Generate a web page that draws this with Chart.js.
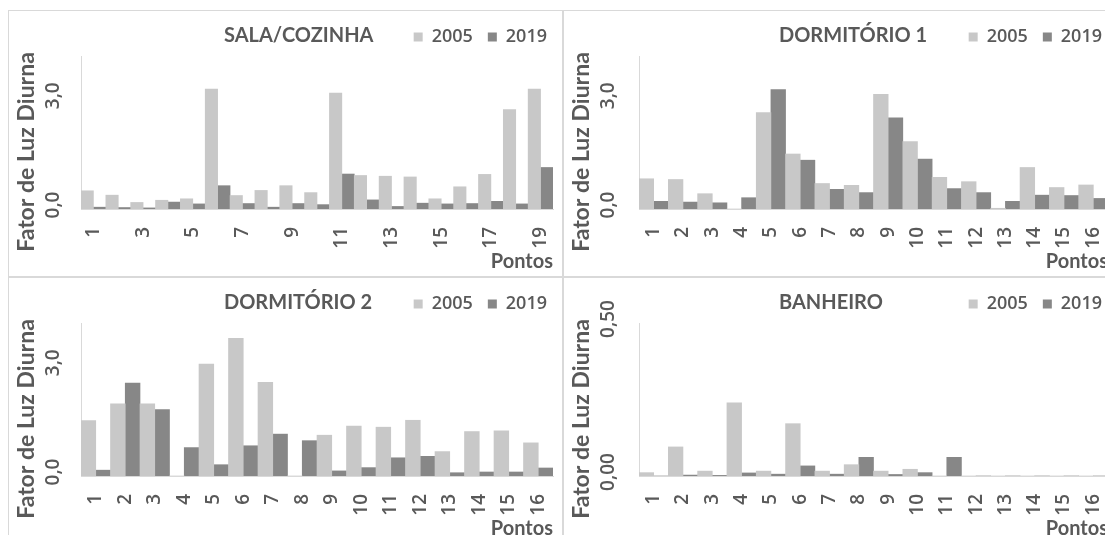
<!DOCTYPE html>
<html>
<head>
<meta charset="utf-8">
<script src="https://cdn.jsdelivr.net/npm/chart.js@4.4.1/dist/chart.umd.min.js"></script>
<style>
  body { margin: 0; width: 1105px; height: 535px; overflow: hidden; background: #fff; position: relative; }
  .panel { position: absolute; width: 553px; height: 265px; border: 1px solid #d9d9d9; }
  canvas { display: block; }
</style>
</head>
<body>
<div class="panel" style="left:8px;top:10px"><canvas id="sala" width="553" height="265"></canvas></div>
<div class="panel" style="left:563px;top:10px"><canvas id="dorm1" width="553" height="265"></canvas></div>
<div class="panel" style="left:8px;top:277px"><canvas id="dorm2" width="553" height="265"></canvas></div>
<div class="panel" style="left:563px;top:277px"><canvas id="banh" width="553" height="265"></canvas></div>
<script>
const pontos19 = ['1','2','3','4','5','6','7','8','9','10','11','12','13','14','15','16','17','18','19'];
const pontos16 = ['1','2','3','4','5','6','7','8','9','10','11','12','13','14','15','16'];

const sala2005 = [0.50, 0.38, 0.18, 0.24, 0.28, 3.29, 0.37, 0.51, 0.64, 0.45, 3.18, 0.92, 0.90, 0.88, 0.28, 0.61, 0.95, 2.73, 3.29];
const sala2019 = [0.05, 0.04, 0.03, 0.19, 0.14, 0.64, 0.15, 0.05, 0.15, 0.12, 0.96, 0.25, 0.07, 0.16, 0.14, 0.15, 0.21, 0.14, 1.14];

const dorm1_2005 = [0.83, 0.81, 0.42, 0, 2.65, 1.51, 0.70, 0.65, 3.15, 1.85, 0.87, 0.75, 0.02, 1.14, 0.59, 0.66];
const dorm1_2019 = [0.21, 0.19, 0.17, 0.31, 3.28, 1.34, 0.54, 0.45, 2.50, 1.37, 0.56, 0.45, 0.21, 0.38, 0.37, 0.29];

const dorm2_2005 = [1.52, 1.98, 1.98, 0, 3.07, 3.78, 2.57, 0, 1.12, 1.37, 1.34, 1.53, 0.67, 1.22, 1.24, 0.91];
const dorm2_2019 = [0.16, 2.55, 1.82, 0.78, 0.31, 0.83, 1.15, 0.97, 0.14, 0.23, 0.50, 0.54, 0.09, 0.11, 0.11, 0.22];

const banh2005 = [0.011, 0.095, 0.016, 0.239, 0.016, 0.171, 0.016, 0.037, 0.016, 0.022, 0, 0, 0, 0, 0, 0];
const banh2019 = [0, 0.003, 0.002, 0.010, 0.006, 0.033, 0.006, 0.061, 0.005, 0.011, 0.061, 0, 0, 0, 0, 0];

const ticksFLD = [0, 3];
const ticksBanh = [0, 0.5];

const TEXT = '#595959';
const LIGHT = '#c8c8c8';
const DARK = '#878787';
const REG = { size: 18, family: 'Open Sans', weight: '600', lineHeight: 1 };
const TICK = { size: 19, family: 'Open Sans', weight: '600', lineHeight: 1 };

// chart title + vertical axis title, drawn at fixed spots like the excel layout
const panelText = {
  id: 'panelText',
  afterDraw(chart, args, opts) {
    const ctx = chart.ctx;
    ctx.save();
    ctx.fillStyle = TEXT;
    ctx.font = 'bold 20px Lato';
    ctx.textAlign = 'left';
    ctx.textBaseline = 'alphabetic';
    ctx.fillText(opts.title, 215, 31);
    ctx.font = 'bold 23px Lato';
    ctx.translate(25, 141);
    ctx.rotate(-Math.PI / 2);
    ctx.textAlign = 'center';
    ctx.fillText(opts.yTitle, 0, 0);
    ctx.restore();
  }
};

function makeChart(id, title, labels, d2005, d2019, cfg) {
  return new Chart(document.getElementById(id), {
    type: 'bar',
    data: {
      labels: labels,
      datasets: [
        { label: '2005', data: d2005, backgroundColor: LIGHT, borderWidth: 0, categoryPercentage: 1, barPercentage: 1 },
        { label: '2019', data: d2019, backgroundColor: DARK, borderWidth: 0, categoryPercentage: 1, barPercentage: 1 }
      ]
    },
    options: {
      responsive: false,
      animation: false,
      layout: { padding: { top: 2, right: 0, left: 0, bottom: 0 } },
      plugins: {
        legend: {
          position: 'top',
          align: 'end',
          labels: { boxWidth: 9, boxHeight: 9, padding: 15, color: TEXT, font: REG }
        },
        tooltip: { enabled: false },
        panelText: { title: title, yTitle: 'Fator de Luz Diurna' }
      },
      scales: {
        x: {
          offset: true,
          grid: { display: false, drawTicks: true, tickLength: 17 },
          border: { display: true, color: '#d9d9d9' },
          afterFit: s => { s.height = 67; },
          ticks: {
            autoSkip: false, minRotation: 90, maxRotation: 90, padding: 1,
            color: TEXT, font: TICK,
            callback: function (v, i) { return (cfg.skipOdd && i % 2 === 1) ? '' : this.getLabelForValue(v); }
          },
          title: {
            display: true, text: 'Pontos', align: 'end', color: TEXT,
            font: { size: 20, weight: 'bold', family: 'Lato' }, padding: { top: 0, bottom: 2 }
          }
        },
        y: {
          min: 0, max: cfg.max,
          afterBuildTicks: s => { s.ticks = cfg.ticks.map(v => ({ value: v })); },
          afterFit: s => { s.width = cfg.left; },
          grid: { display: false, drawTicks: false },
          border: { display: true, color: '#d9d9d9' },
          ticks: {
            minRotation: 90, maxRotation: 90, crossAlign: 'center', padding: cfg.tickPad, labelOffset: -4,
            color: TEXT, font: TICK,
            callback: v => v.toFixed(cfg.dec).replace('.', ',')
          }
        },
        yRight: {
          type: 'linear', axis: 'y', position: 'right',
          grid: { display: false, drawTicks: false },
          border: { display: false },
          ticks: { display: false },
          afterFit: s => { s.width = 9; }
        }
      }
    },
    plugins: [panelText]
  });
}

Promise.all([
  document.fonts.load('bold 20px Lato'),
  document.fonts.load('600 18px "Open Sans"')
]).finally(() => {
  makeChart('sala', 'SALA/COZINHA', pontos19, sala2005, sala2019,
    { max: 4.2, ticks: ticksFLD, dec: 1, left: 72, tickPad: 14, skipOdd: true });
  makeChart('dorm1', 'DORMITÓRIO 1', pontos16, dorm1_2005, dorm1_2019,
    { max: 4.2, ticks: ticksFLD, dec: 1, left: 75, tickPad: 17, skipOdd: false });
  makeChart('dorm2', 'DORMITÓRIO 2', pontos16, dorm2_2005, dorm2_2019,
    { max: 4.2, ticks: ticksFLD, dec: 1, left: 72, tickPad: 14, skipOdd: false });
  makeChart('banh', 'BANHEIRO', pontos16, banh2005, banh2019,
    { max: 0.5, ticks: ticksBanh, dec: 2, left: 75, tickPad: 12, skipOdd: false });
});
</script>
</body>
</html>
